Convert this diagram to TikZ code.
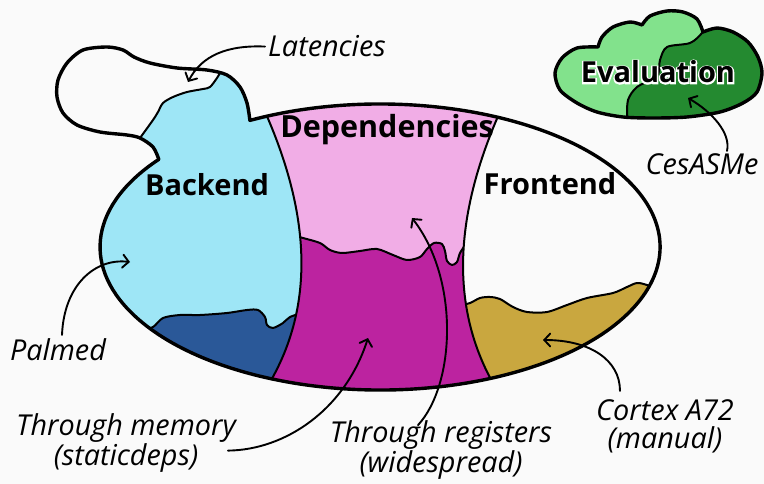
\documentclass[tikz,border=0pt]{standalone}
\usepackage{fontspec}
\setmainfont{Open Sans}
\usetikzlibrary{arrows.meta,calc}
\definecolor{bgc}{HTML}{FAFAFA}
\definecolor{cyanc}{HTML}{9EE6F6}
\definecolor{pinkc}{HTML}{F1ADE6}
\definecolor{magc}{HTML}{BC23A0}
\definecolor{blueC}{HTML}{2A5898}
\definecolor{goldc}{HTML}{C9A73F}
\definecolor{lgreen}{HTML}{82E28C}
\definecolor{dgreen}{HTML}{248A30}
\begin{document}
\begin{tikzpicture}[x=1pt,y=-1pt,
  outline/.style={line width=3.4pt, line join=round, line cap=round},
  thinl/.style={line width=2pt, line join=round, line cap=round},
  arr/.style={line width=1.9pt, line cap=round, -{Straight Barb[length=6pt,width=13pt,line cap=round]}},
  lab/.style={font=\fontsize{28.8}{28}\selectfont\itshape, inner sep=0pt, align=center},
  big/.style={font=\fontsize{29}{29}\selectfont\bfseries, inner sep=0pt}]
\useasboundingbox (0,0) rectangle (764,484);
\fill[bgc] (0,0) rectangle (764,484);

% ---------- regions inside the ellipse ----------
\begin{scope}
  \clip (380,247) ellipse [x radius=280, y radius=143];
  % backend (cyan)
  \fill[cyanc] (0,0) -- (262,0) -- (262,105) .. controls (303,195) and (325,300) .. (262,395) -- (262,484) -- (0,484) -- cycle;
  % dependencies (pink)
  \fill[pinkc] (262,105) .. controls (303,195) and (325,300) .. (262,395) -- (500,395) .. controls (440,300) and (462,195) .. (503,105) -- cycle;
  % through memory (dark blue)
  \begin{scope}
    \clip (0,0) -- (262,0) -- (262,105) .. controls (303,195) and (325,300) .. (262,395) -- (262,484) -- (0,484) -- cycle;
    \fill[blueC] plot[smooth] coordinates {(140,331) (153,327) (163,318) (180,315) (200,315) (227,313) (247,310) (258,310) (265,317) (267,325) (273,328) (283,323) (290,317) (305,312)} -- (305,420) -- (140,420) -- cycle;
    \draw[thinl] plot[smooth] coordinates {(140,331) (153,327) (163,318) (180,315) (200,315) (227,313) (247,310) (258,310) (265,317) (267,325) (273,328) (283,323) (290,317) (305,312)};
  \end{scope}
  % through registers (magenta)
  \begin{scope}
    \clip (262,105) .. controls (303,195) and (325,300) .. (262,395) -- (500,395) .. controls (440,300) and (462,195) .. (503,105) -- cycle;
    \fill[magc] plot[smooth] coordinates {(292,235) (303,238) (320,243) (330,250) (342,253) (360,251) (377,249) (393,255) (407,260) (420,257) (427,249) (434,243) (442,244) (445,251) (447,261) (452,265) (457,262) (460,253) (466,244) (480,240)} -- (530,420) -- (240,420) -- (240,235) -- cycle;
    \draw[thinl] plot[smooth] coordinates {(292,235) (303,238) (320,243) (330,250) (342,253) (360,251) (377,249) (393,255) (407,260) (420,257) (427,249) (434,243) (442,244) (445,251) (447,261) (452,265) (457,262) (460,253) (466,244)};
  \end{scope}
  % cortex A72 (gold)
  \begin{scope}
    \clip (503,105) .. controls (462,195) and (440,300) .. (500,395) -- (700,395) -- (700,105) -- cycle;
    \fill[goldc] plot[smooth] coordinates {(458,306) (470,303) (480,298) (490,297) (500,299) (513,307) (527,312) (547,312) (567,305) (587,298) (613,293) (627,287) (637,283) (647,285) (662,291)} -- (662,420) -- (440,420) -- (440,306) -- cycle;
    \draw[thinl] plot[smooth] coordinates {(458,306) (470,303) (480,298) (490,297) (500,299) (513,307) (527,312) (547,312) (567,305) (587,298) (613,293) (627,287) (637,283) (647,285) (662,291)};
  \end{scope}
  % dividers
  \draw[thinl] (262,105) .. controls (303,195) and (325,300) .. (262,395);
  \draw[thinl] (503,105) .. controls (462,195) and (440,300) .. (500,395);
\end{scope}

% ---------- backend bump above the ellipse ----------
\fill[cyanc] plot[smooth] coordinates {(158.8,159.3) (153,147) (140,138)}
  -- plot[smooth] coordinates {(140,138) (153,120) (158,112) (163,103) (173,97) (187,92) (203,89) (210,87) (217,78) (220,73)}
  -- plot[smooth] coordinates {(220,73) (227,75) (240,87) (247,103) (249.9,120.4)}
  -- (200,175) -- cycle;
\draw[thinl] plot[smooth] coordinates {(140,138) (153,120) (158,112) (163,103) (173,97) (187,92) (203,89) (210,87) (217,78) (220,73)};

% ---------- thick outline: ellipse + loop ----------
\draw[outline] (249.9,120.4) arc[start angle=-117.7, end angle=217.8, x radius=280, y radius=143]
  -- plot[smooth] coordinates {(158.8,159.3) (153,147) (140,138) (127,135) (100,132) (77,125) (63,113) (57,97) (58,80) (67,63) (83,50) (107,47) (123,50) (134,57) (150,63) (177,68) (207,70) (227,75) (240,87) (247,103) (249.9,120.4)} -- cycle;

% ---------- evaluation cloud ----------
\begin{scope}
  \clip (598,47) -- plot[smooth] coordinates {(598,47) (602,37) (613,27) (630,22) (642,25)}
    -- plot[smooth] coordinates {(642,25) (650,16) (667,11) (683,12) (697,19) (703,32)}
    -- plot[smooth] coordinates {(703,32) (717,28) (733,32) (748,42) (758,57) (762,73) (757,92) (743,103) (720,112) (687,117) (653,118) (623,117) (597,112) (577,103) (560,90) (555,73) (562,58) (577,48) (598,47)} -- cycle;
  \fill[lgreen] (540,0) rectangle (764,130);
  \fill[dgreen] plot[smooth] coordinates {(708,22) (702,33) (690,43) (667,47) (660,60) (657,76) (637,87) (628,100) (627,118) (626,128)} -- (770,128) -- (770,0) -- (708,0) -- cycle;
  \draw[thinl] plot[smooth] coordinates {(708,22) (702,33) (690,43) (667,47) (660,60) (657,76) (637,87) (628,100) (627,118) (626,128)};
\end{scope}
\draw[outline] (598,47) -- plot[smooth] coordinates {(598,47) (602,37) (613,27) (630,22) (642,25)}
    -- plot[smooth] coordinates {(642,25) (650,16) (667,11) (683,12) (697,19) (703,32)}
    -- plot[smooth] coordinates {(703,32) (717,28) (733,32) (748,42) (758,57) (762,73) (757,92) (743,103) (720,112) (687,117) (653,118) (623,117) (597,112) (577,103) (560,90) (555,73) (562,58) (577,48) (598,47)} -- cycle;

% Evaluation label with a white halo (stroked copy underneath)
\node[big, text=white, anchor=base, font=\fontsize{29}{29}\selectfont\bfseries\addfontfeature{FakeBold=10}] (evhalo) at (658,83) {Evaluation};
\node[big, anchor=base] (eval) at (658,83) {Evaluation};

% ---------- region titles ----------
\node[big, anchor=base] (backend) at (207,196) {Backend};
\node[big, anchor=base, font=\fontsize{30.5}{30}\selectfont\bfseries] (deps) at (387,138) {Dependencies};
\node[big, anchor=base] (front) at (550,195) {Frontend};

% ---------- annotation labels ----------
\node[lab, anchor=base] (lat) at (327,57) {Latencies};
\node[lab, anchor=base] (ces) at (702,175) {CesASMe};
\node[lab, anchor=base] (pal) at (58,360) {Palmed};
\node[lab, anchor=base] (mem) at (126,465) {Through memory\\(staticdeps)};
\node[lab, anchor=base] (regs) at (441,472) {Through registers\\(widespread)};
\node[lab, anchor=base] (cortex) at (665,448) {Cortex A72\\(manual)};

% ---------- arrow tips ----------
\coordinate (latT) at (188,82);
\coordinate (cesT) at (688,98);
\coordinate (palT) at (130,262);
\coordinate (memT) at (368,338);
\coordinate (regT) at (412,218);
\coordinate (corT) at (543,340);

% (yshift is in page direction: positive = up)
\draw[arr] ([xshift=-3pt]lat.west) .. controls (228,45) and (202,55) .. (latT);
\draw[arr] ([xshift=25pt,yshift=3pt]ces.north) .. controls (731,133) and (712,112) .. (cesT);
\draw[arr] ([xshift=4pt,yshift=3pt]pal.north) .. controls (64,285) and (95,258) .. (palT);
\draw[arr] ([xshift=-8pt,yshift=-8pt]mem.east) .. controls (285,450) and (345,410) .. (memT);
\draw[arr] ([xshift=-23pt,yshift=-5pt]regs.north) .. controls (455,385) and (460,280) .. (regT);
\draw[arr] ([xshift=-45pt,yshift=8pt]cortex.north) .. controls (620,360) and (590,340) .. (corT);
\end{tikzpicture}
\end{document}
